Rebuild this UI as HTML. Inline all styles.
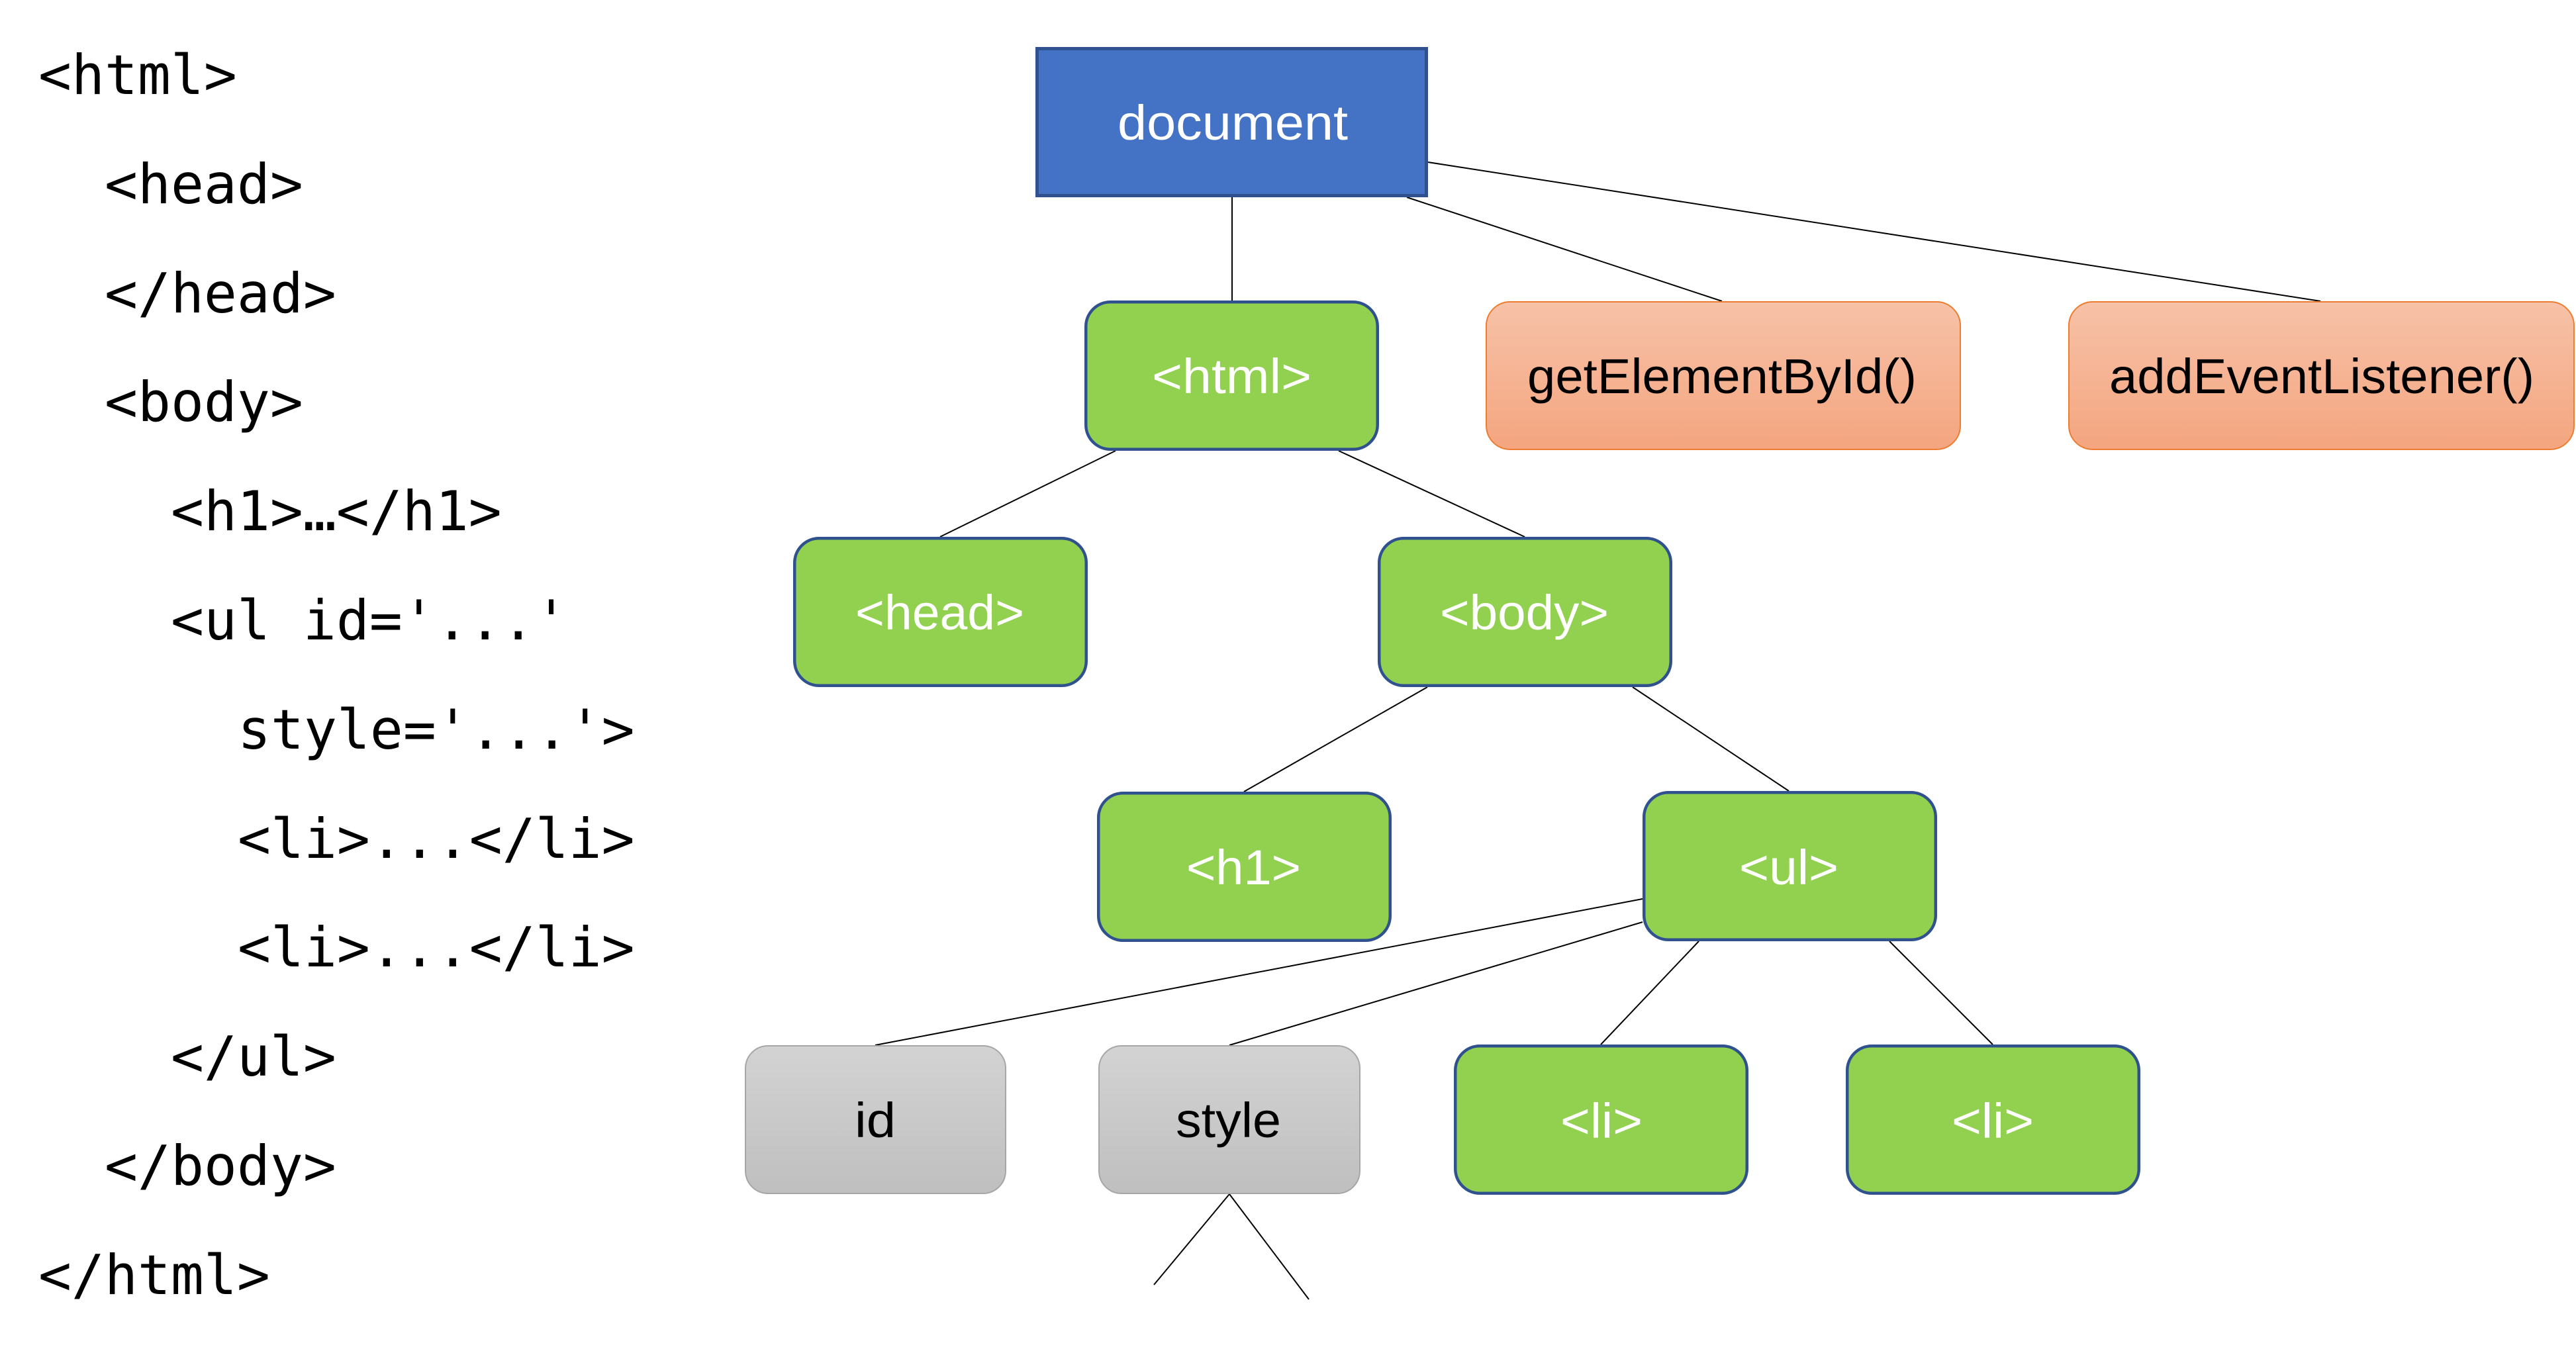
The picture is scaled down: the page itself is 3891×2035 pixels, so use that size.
<!DOCTYPE html>
<html>
<head>
<meta charset="utf-8">
<style>
  html, body { margin: 0; padding: 0; background: #ffffff; }
  body { width: 3891px; height: 2035px; overflow: hidden; }
  svg { display: block; }
  .code { font-family: "DejaVu Sans Mono", "Liberation Mono", monospace; font-size: 83px; fill: #000; }
  .node { font-family: "Liberation Sans", sans-serif; font-size: 74px; }
</style>
</head>
<body>
<svg width="3891" height="2035" viewBox="0 0 3891 2035" xmlns="http://www.w3.org/2000/svg">
  <defs>
    <linearGradient id="og" x1="0" y1="0" x2="0" y2="1">
      <stop offset="0" stop-color="#f7c2a8"/>
      <stop offset="1" stop-color="#f4a57f"/>
    </linearGradient>
    <linearGradient id="gg" x1="0" y1="0" x2="0" y2="1">
      <stop offset="0" stop-color="#d3d3d3"/>
      <stop offset="1" stop-color="#bfbfbf"/>
    </linearGradient>
  </defs>

  <!-- Code listing -->
  <text class="code" x="58" y="142">&lt;html&gt;</text>
  <text class="code" x="158" y="307">&lt;head&gt;</text>
  <text class="code" x="158" y="472">&lt;/head&gt;</text>
  <text class="code" x="158" y="636">&lt;body&gt;</text>
  <text class="code" x="258" y="801">&lt;h1&gt;…&lt;/h1&gt;</text>
  <text class="code" x="258" y="966">&lt;ul id='...'</text>
  <text class="code" x="359" y="1131">style='...'&gt;</text>
  <text class="code" x="359" y="1296">&lt;li&gt;...&lt;/li&gt;</text>
  <text class="code" x="359" y="1460">&lt;li&gt;...&lt;/li&gt;</text>
  <text class="code" x="258" y="1625">&lt;/ul&gt;</text>
  <text class="code" x="158" y="1790">&lt;/body&gt;</text>
  <text class="code" x="58" y="1955">&lt;/html&gt;</text>

  <!-- Connectors -->
  <g stroke="#000" stroke-width="2" fill="none">
    <line x1="1861" y1="298" x2="1861" y2="454"/>
    <line x1="2125" y1="298" x2="2601" y2="455"/>
    <line x1="2157" y1="245" x2="3505" y2="455"/>
    <line x1="1685" y1="681" x2="1420" y2="811"/>
    <line x1="2022" y1="681" x2="2303" y2="811"/>
    <line x1="2156" y1="1038" x2="1879" y2="1196"/>
    <line x1="2466" y1="1038" x2="2702" y2="1195"/>
    <line x1="2481" y1="1358" x2="1322" y2="1579"/>
    <line x1="2481" y1="1393" x2="1857" y2="1579"/>
    <line x1="2566" y1="1422" x2="2418" y2="1578"/>
    <line x1="2854" y1="1422" x2="3010" y2="1578"/>
    <line x1="1857" y1="1804" x2="1743" y2="1941"/>
    <line x1="1857" y1="1804" x2="1977" y2="1963"/>
  </g>

  <!-- document -->
  <rect x="1566.5" y="73.5" width="588" height="222" fill="#4472c4" stroke="#2f528f" stroke-width="5"/>
  <text class="node" x="1688" y="211" fill="#fff" textLength="348" lengthAdjust="spacingAndGlyphs">document</text>

  <!-- green boxes -->
  <g fill="#92d050" stroke="#2f528f" stroke-width="4.5">
    <rect x="1640.25" y="456.25" width="440.5" height="222.5" rx="37" ry="37"/>
    <rect x="1200.25" y="813.25" width="440.5" height="222.5" rx="37" ry="37"/>
    <rect x="2083.25" y="813.25" width="440.5" height="222.5" rx="37" ry="37"/>
    <rect x="1659.25" y="1198.25" width="440.5" height="222.5" rx="37" ry="37"/>
    <rect x="2483.25" y="1197.25" width="440.5" height="222.5" rx="37" ry="37"/>
    <rect x="2198.25" y="1580.25" width="440.5" height="222.5" rx="37" ry="37"/>
    <rect x="2790.25" y="1580.25" width="440.5" height="222.5" rx="37" ry="37"/>
  </g>
  <g fill="#fff">
    <text class="node" x="1740" y="594" textLength="241" lengthAdjust="spacingAndGlyphs">&lt;html&gt;</text>
    <text class="node" x="1292" y="951" textLength="255" lengthAdjust="spacingAndGlyphs">&lt;head&gt;</text>
    <text class="node" x="2175" y="951" textLength="255" lengthAdjust="spacingAndGlyphs">&lt;body&gt;</text>
    <text class="node" x="1792" y="1336" textLength="173" lengthAdjust="spacingAndGlyphs">&lt;h1&gt;</text>
    <text class="node" x="2627" y="1336" textLength="150" lengthAdjust="spacingAndGlyphs">&lt;ul&gt;</text>
    <text class="node" x="2357" y="1719" textLength="124" lengthAdjust="spacingAndGlyphs">&lt;li&gt;</text>
    <text class="node" x="2948" y="1719" textLength="124" lengthAdjust="spacingAndGlyphs">&lt;li&gt;</text>
  </g>

  <!-- orange boxes -->
  <g fill="url(#og)" stroke="#ed7d31" stroke-width="2">
    <rect x="2245" y="456" width="716" height="223" rx="36" ry="36"/>
    <rect x="3125" y="456" width="763" height="223" rx="36" ry="36"/>
  </g>
  <g fill="#000">
    <text class="node" x="2307" y="594" textLength="588" lengthAdjust="spacingAndGlyphs">getElementById()</text>
    <text class="node" x="3186" y="594" textLength="642" lengthAdjust="spacingAndGlyphs">addEventListener()</text>
  </g>

  <!-- gray boxes -->
  <g fill="url(#gg)" stroke="#a6a6a6" stroke-width="2">
    <rect x="1126" y="1580" width="393" height="223" rx="34" ry="34"/>
    <rect x="1660" y="1580" width="394" height="223" rx="34" ry="34"/>
  </g>
  <g fill="#000">
    <text class="node" x="1291" y="1718" textLength="62" lengthAdjust="spacingAndGlyphs">id</text>
    <text class="node" x="1776" y="1718" textLength="159" lengthAdjust="spacingAndGlyphs">style</text>
  </g>
</svg>
</body>
</html>
